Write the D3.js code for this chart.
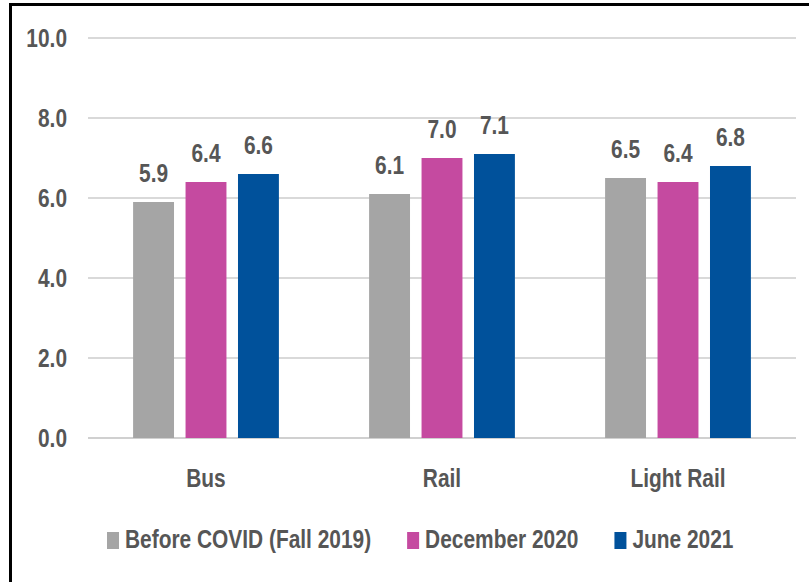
<!DOCTYPE html>
<html>
<head>
<meta charset="utf-8">
<script src="https://cdn.jsdelivr.net/npm/d3@7"></script>
<style>
  body { margin: 0; background: #fff; }
  text { font-family: "Liberation Sans", Arial, sans-serif; fill: #565656; font-size: 25.5px; font-weight: bold; }
</style>
</head>
<body>
<div class="chart-div"></div>
<script>
var categories = ["Bus", "Rail", "Light Rail"];
var seriesNames = ["Before COVID (Fall 2019)", "December 2020", "June 2021"];
var before = [5.9, 6.1, 6.5];
var dec2020 = [6.4, 7.0, 6.4];
var jun2021 = [6.6, 7.1, 6.8];
var yTicks = [0, 2, 4, 6, 8, 10];
var colors = ["#a5a5a5", "#c54aa0", "#00519b"];

var width = 809, height = 582;
var margin = {top: 38, right: 13, bottom: 144, left: 88};
var squeeze = 0.82; // text in the original is narrow

const svg = d3.select(".chart-div").append("svg")
    .attr("width", width)
    .attr("height", height);

// frame (only top and left show in the crop)
svg.append("path")
    .attr("d", "M10.5,582 V4.5 H809")
    .attr("fill", "none")
    .attr("stroke", "#000")
    .attr("stroke-width", 3);

var series = [before, dec2020, jun2021];

const x = d3.scaleBand()
    .domain(categories)
    .range([margin.left, width - margin.right]);

const xs = d3.scaleBand()
    .domain(d3.range(series.length))
    .range([0, x.bandwidth()])
    .paddingInner(0.22)
    .paddingOuter(0.86);

const y = d3.scaleLinear()
    .domain([0, 10])
    .range([height - margin.bottom, margin.top]);

const g = svg.append("g");

function label(sel, tx, ty) {
    return sel.attr("transform", (d, i) => "translate(" + tx(d, i) + "," + ty(d, i) + ") scale(" + squeeze + ",1)");
}

// gridlines
g.selectAll(".grid")
    .data(yTicks)
    .join("line")
    .attr("x1", margin.left)
    .attr("x2", width - margin.right)
    .attr("y1", d => y(d))
    .attr("y2", d => y(d))
    .attr("stroke", d => d === 0 ? "#d0d0d0" : "#d9d9d9")
    .attr("stroke-width", 2);

// y labels
label(g.selectAll(".ylab")
    .data(yTicks)
    .join("text")
    .attr("dy", "0.36em")
    .attr("text-anchor", "end")
    .text(d => d.toFixed(1)), d => 67, d => y(d));

// bars
series.forEach(function(vals, i) {
    var bg = g.append("g");
    bg.selectAll("rect")
        .data(vals)
        .join("rect")
        .attr("x", (d, j) => x(categories[j]) + xs(i))
        .attr("width", xs.bandwidth())
        .attr("y", d => y(d))
        .attr("height", d => y(0) - y(d))
        .attr("fill", colors[i]);
    label(bg.selectAll("text")
        .data(vals)
        .join("text")
        .attr("text-anchor", "middle")
        .text(d => d.toFixed(1)),
        (d, j) => x(categories[j]) + xs(i) + xs.bandwidth() / 2,
        d => y(d) - 20);
});

// category labels
label(g.selectAll(".xlab")
    .data(categories)
    .join("text")
    .attr("text-anchor", "middle")
    .text(d => d), d => x(d) + x.bandwidth() / 2, d => 487);

// legend
var lx = 107;
seriesNames.forEach(function(name, i) {
    g.append("rect")
        .attr("x", lx)
        .attr("y", 532)
        .attr("width", 12)
        .attr("height", 17)
        .attr("fill", colors[i]);
    var t = g.append("text")
        .attr("transform", "translate(" + (lx + 18) + ",548) scale(" + squeeze + ",1)")
        .text(name);
    lx += 18 + t.node().getComputedTextLength() * squeeze + 36;
});
</script>
</body>
</html>
